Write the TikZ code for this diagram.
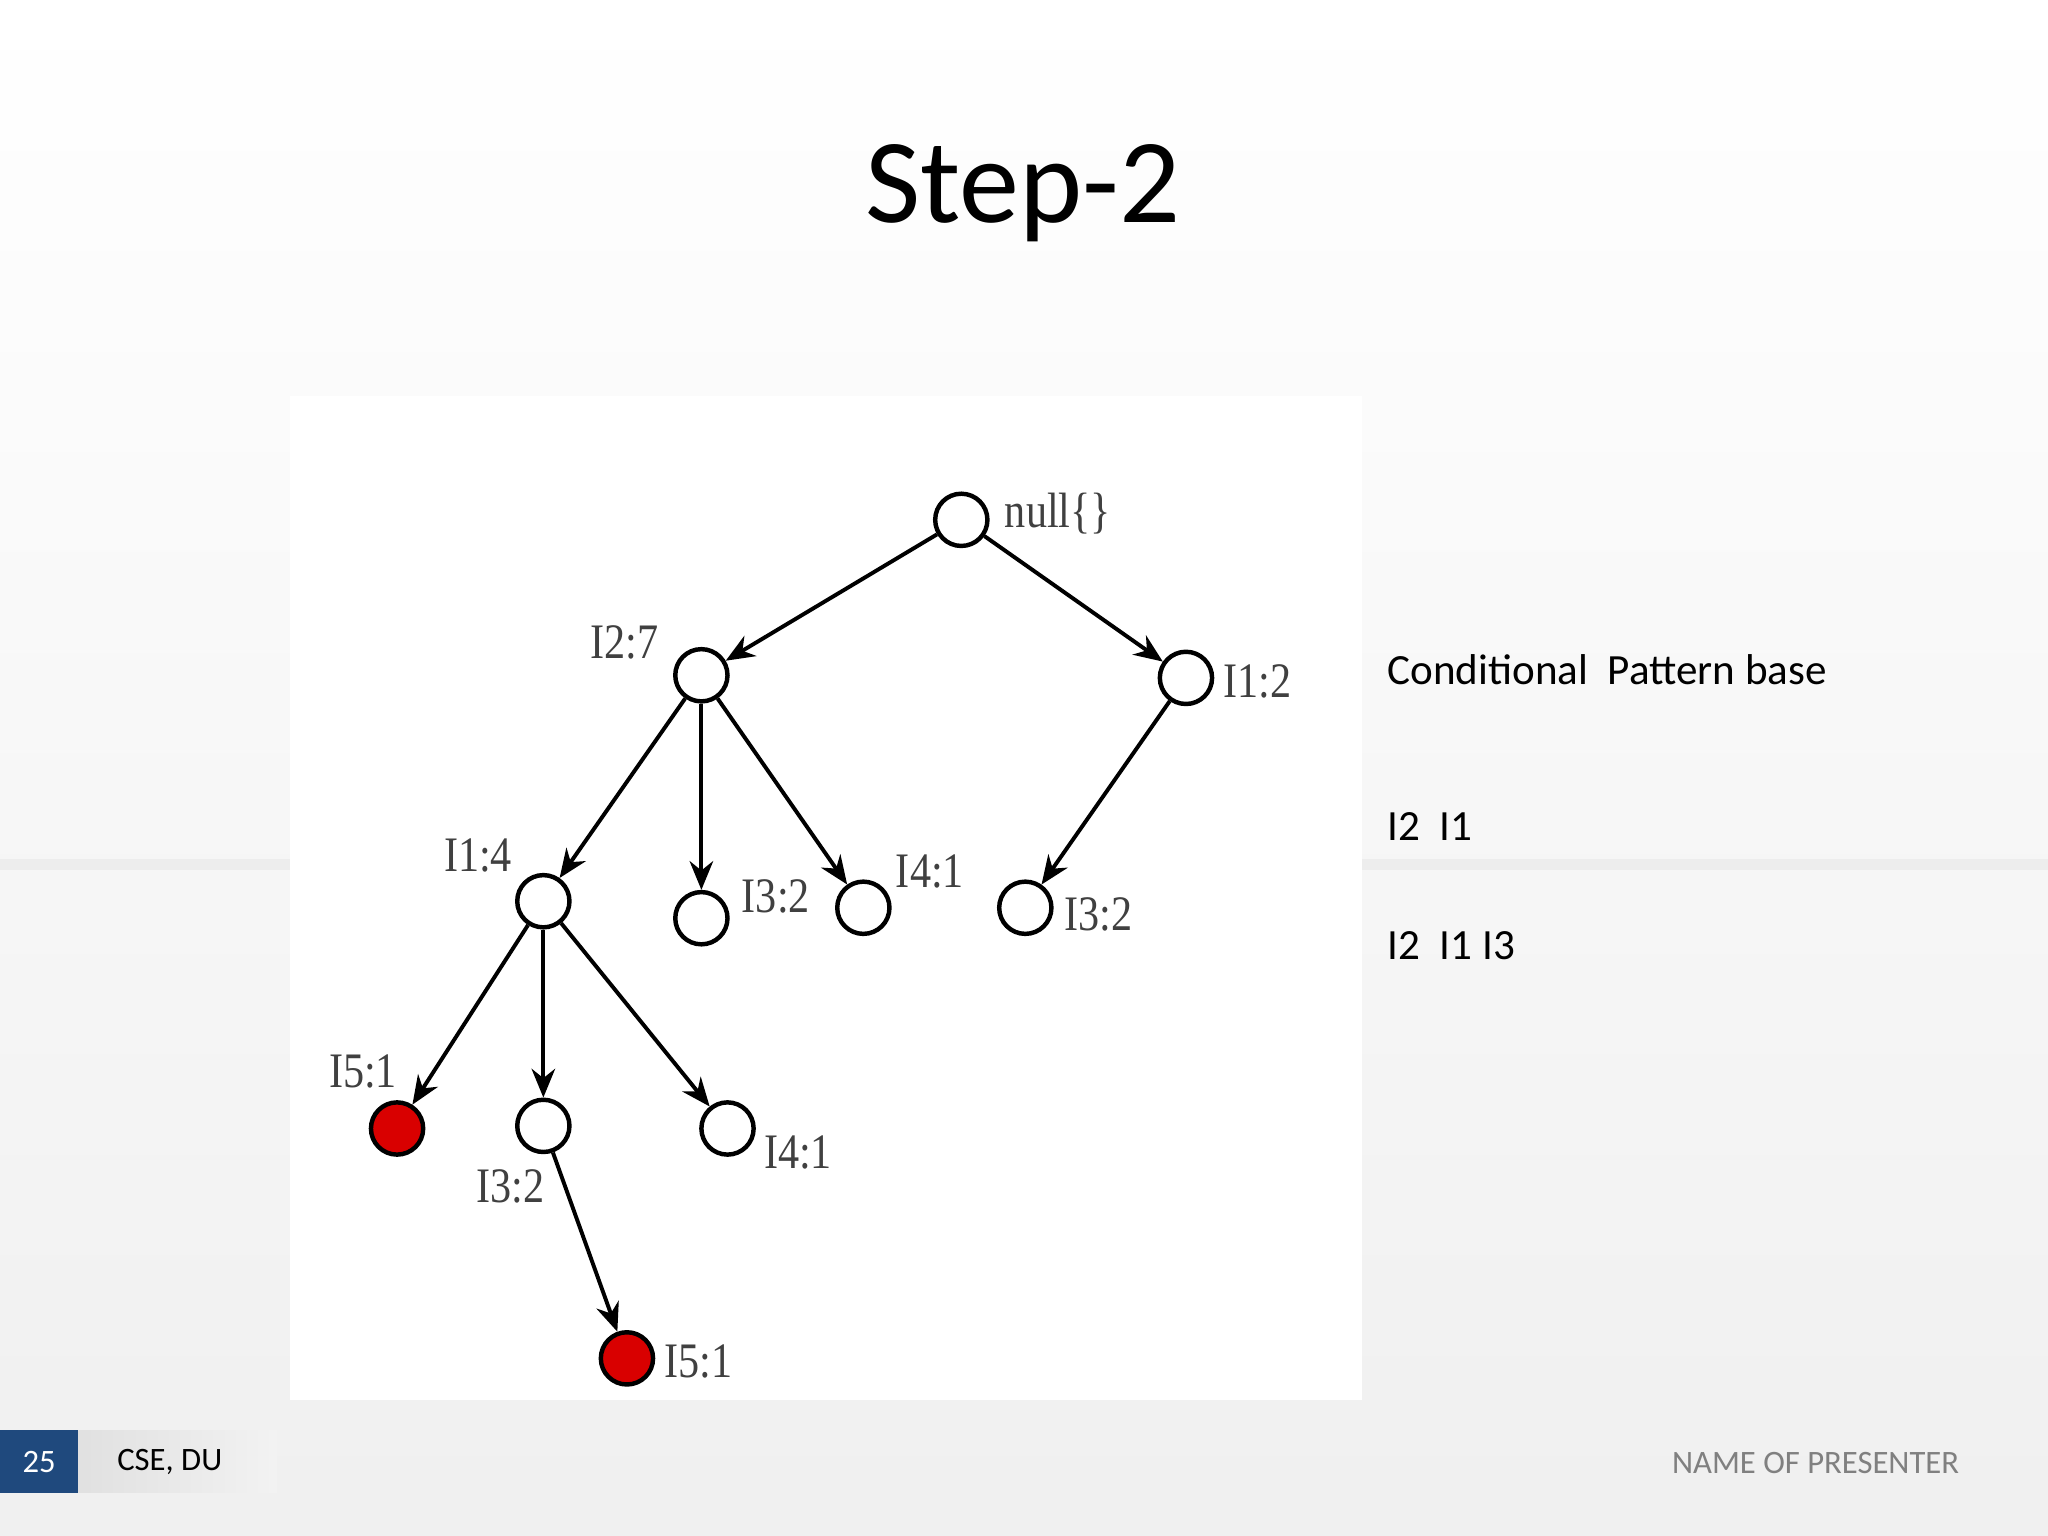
\documentclass[tikz,border=0pt]{standalone}
\usepackage{fontspec}
\setmainfont{Carlito}
\newfontfamily\tfont{Liberation Serif}
\usetikzlibrary{arrows.meta}
\begin{document}
\begin{tikzpicture}[x=0.5pt,y=-0.5pt,
  nd/.style={circle,draw=black,line width=1.7pt,fill=white,minimum size=20pt,inner sep=0pt},
  rd/.style={nd,fill=red!85!black},
  lb/.style={font=\tfont\fontsize{19}{19}\selectfont,text=black!75,inner sep=0pt,xscale=0.85},
  ar/.style={-{Stealth[length=11pt,width=9pt]},line width=1.5pt},
  tx/.style={font=\fontsize{16.5}{16.5}\selectfont,anchor=west,inner sep=0pt}]
\shade[top color=white,bottom color=black!6] (0,0) rectangle (1568,1176);
\useasboundingbox (0,0) rectangle (1568,1176);
\fill[black!7] (0,658) rectangle (1568,666);
\fill[white] (222,303) rectangle (1043,1072);
\node[font=\fontsize{46}{46}\selectfont] (title) at (783,148) {Step-2};
\node (n0) [nd] at (736,398) {};
\node (n1) [nd] at (537,517) {};
\node (n2) [nd] at (908,519) {};
\node (n3) [nd] at (416,690) {};
\node (n4) [nd] at (537,703) {};
\node (n5) [nd] at (661,695) {};
\node (n6) [nd] at (785,695) {};
\node (n7) [rd] at (304,864) {};
\node (n8) [nd] at (416,862) {};
\node (n9) [nd] at (557,864) {};
\node (n10) [rd] at (480,1040) {};
\node[lb] (l0) at (810,393) {null\{\}};
\node[lb] (l1) at (478,492) {I2:7};
\node[lb] (l2) at (963,522) {I1:2};
\node[lb] (l3) at (366,655) {I1:4};
\node[lb] (l4) at (594,686) {I3:2};
\node[lb] (l5) at (712,667) {I4:1};
\node[lb] (l6) at (841,700) {I3:2};
\node[lb] (l7) at (278,820) {I5:1};
\node[lb] (l8) at (391,908) {I3:2};
\node[lb] (l9) at (611,882) {I4:1};
\node[lb] (l10) at (535,1042) {I5:1};
\draw[ar] (n0) -- (n1); \draw[ar] (n0) -- (n2);
\draw[ar] (n1) -- (n3); \draw[ar] (n1) -- (n4); \draw[ar] (n1) -- (n5);
\draw[ar] (n2) -- (n6);
\draw[ar] (n3) -- (n7); \draw[ar] (n3) -- (n8); \draw[ar] (n3) -- (n9);
\draw[ar] (n8) -- (n10);
\node[tx] (t1) at (1062,513) {Conditional\ \ Pattern base};
\node[tx] (t2) at (1062,633) {I2\ \ I1};
\node[tx] (t3) at (1062,724) {I2\ \ I1 I3};
\fill[blue!30!black!70!cyan!60!black] (0,1095) rectangle (60,1143);
\fill[color={rgb,255:red,31;green,73;blue,125}] (0,1095) rectangle (60,1143);
\shade[left color=black!12,right color=black!5] (60,1095) rectangle (212,1143);
\node[font=\fontsize{12.5}{12.5}\selectfont,text=white] (f1) at (30,1119) {25};
\node[font=\fontsize{12.5}{12.5}\selectfont] (f2) at (130,1119) {CSE, DU};
\node[font=\fontsize{12.5}{12.5}\selectfont,text=black!50,anchor=east] (f3) at (1507,1120) {NAME OF PRESENTER};
\end{tikzpicture}
\end{document}
